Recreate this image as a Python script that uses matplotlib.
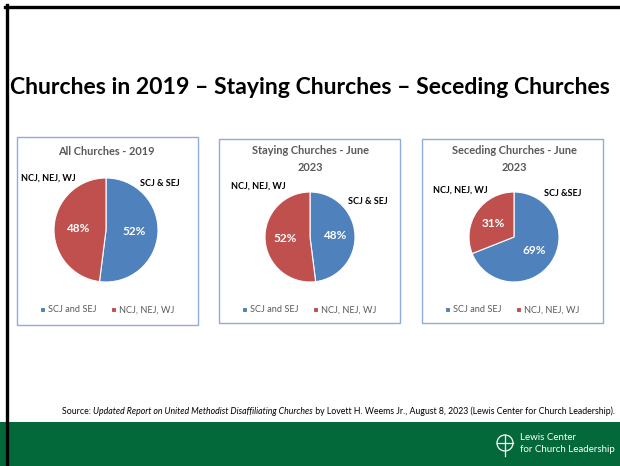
import matplotlib
matplotlib.use('Agg')
import matplotlib.pyplot as plt
from matplotlib.patches import Rectangle, Circle
from matplotlib.lines import Line2D

# data
regions = ['SCJ and SEJ', 'NCJ, NEJ, WJ']
all_2019 = [52, 48]
staying_2023 = [48, 52]
seceding_2023 = [69, 31]
chart_titles = ['All Churches - 2019', 'Staying Churches - June\n2023', 'Seceding Churches - June\n2023']
south_labels = ['SCJ & SEJ', 'SCJ & SEJ', 'SCJ &SEJ']
north_label = 'NCJ, NEJ, WJ'

W, H = 620, 466
BLUE = '#4F81BD'
RED = '#C0504D'
GRAY = '#595959'
GREEN = '#04693A'
FONT = 'Lato'

plt.rcParams['font.family'] = [FONT, 'DejaVu Sans']

def fx(x):
    return x / W

def fy(y):
    return 1 - y / H

fig = plt.figure(figsize=(W / 100, H / 100), dpi=100)
fig.patch.set_facecolor('white')

# green footer band
fig.patches.append(Rectangle((0, 0), 1, (466 - 422) / H, transform=fig.transFigure,
                             facecolor=GREEN, edgecolor='none', zorder=0))
# black slide border (top and left)
fig.lines.append(Line2D([fx(5), 1], [fy(6.5), fy(6.5)], transform=fig.transFigure, color='black', lw=2.4))
fig.lines.append(Line2D([fx(6.5), fx(6.5)], [fy(5), 0], transform=fig.transFigure, color='black', lw=2.4))

fig.text(fx(310), fy(87), 'Churches in 2019 \u2013 Staying Churches \u2013 Seceding Churches',
         ha='center', va='center', fontsize=16.6, fontweight='bold', color='black')

panels = [
    # box (x0, y0, x1, y1), pie centre, radius, label positions
    dict(box=(17, 137, 198, 325), c=(106, 230), r=52, vals=all_2019, title_y=152,
         north=(48, 178), south=(160, 183), legend_y=310),
    dict(box=(219, 139, 400, 323), c=(310, 237), r=45, vals=staying_2023, title_y=159,
         north=(258, 186), south=(368, 201), legend_y=310),
    dict(box=(422, 139, 603, 323), c=(514, 237), r=45, vals=seceding_2023, title_y=159,
         north=(460, 190), south=(563, 193), legend_y=310),
]

for i, p in enumerate(panels):
    x0, y0, x1, y1 = p['box']
    fig.patches.append(Rectangle((fx(x0), fy(y1)), (x1 - x0) / W, (y1 - y0) / H,
                                 transform=fig.transFigure, facecolor='white',
                                 edgecolor='#8FAADC', lw=1.0, zorder=1))
    cx, cy = p['c']
    r = p['r']
    ax = fig.add_axes([fx(cx - r), fy(cy + r), 2 * r / W, 2 * r / H])
    ax.set_zorder(3)
    wedges, _, autotexts = ax.pie(p['vals'], colors=[BLUE, RED], startangle=90, counterclock=False,
                                  autopct=lambda v: f'{v:.0f}%', pctdistance=0.55,
                                  wedgeprops=dict(edgecolor='white', linewidth=0.8))
    for t in autotexts:
        t.set_color('white')
        t.set_fontsize(8.5)
        t.set_fontweight('bold')
    ax.set_xlim(-1, 1)
    ax.set_ylim(-1, 1)
    ax.set_aspect('equal')

    fig.text(fx(cx), fy(p['title_y']), chart_titles[i], ha='center', va='center',
             fontsize=7.9, fontweight='bold', color=GRAY, linespacing=1.6, zorder=4)
    fig.text(fx(p['north'][0]), fy(p['north'][1]), north_label, ha='center', va='center',
             fontsize=6.5, fontweight='bold', color='black', zorder=4)
    fig.text(fx(p['south'][0]), fy(p['south'][1]), south_labels[i], ha='center', va='center',
             fontsize=6.5, fontweight='bold', color='black', zorder=4)
    leg = fig.legend(wedges, regions, loc='center', bbox_to_anchor=(fx((x0 + x1) / 2), fy(p['legend_y'])),
                     ncol=2, frameon=False, fontsize=6.6, labelcolor=GRAY, handlelength=0.45,
                     handleheight=0.45, handletextpad=0.4, columnspacing=1.6)
    leg.set_zorder(4)

# source line, pieced together so the title can be italic
fig.canvas.draw()
renderer = fig.canvas.get_renderer()
x = 62
for txt, st in [('Source: ', 'normal'),
                ('Updated Report on United Methodist Disaffiliating Churches', 'italic'),
                (' by Lovett H. Weems Jr., August 8, 2023 (Lewis Center for Church Leadership).', 'normal')]:
    t = fig.text(fx(x), fy(411), txt, ha='left', va='center', fontsize=6.3, style=st, color='black')
    x = t.get_window_extent(renderer).x1

# logo in the footer
logo = fig.add_axes([fx(493), fy(458), 24 / W, 24 / H])
logo.set_zorder(3)
logo.patch.set_visible(False)
logo.set_xlim(0, 24)
logo.set_ylim(0, 24)
logo.axis('off')
logo.add_patch(Circle((12, 15), 8, facecolor='none', edgecolor='white', lw=0.9))
logo.plot([12, 12], [2, 23], color='white', lw=0.9)
logo.plot([4, 20], [15, 15], color='white', lw=0.9)
fig.text(fx(520), fy(437), 'Lewis Center', ha='left', va='center', fontsize=7, color='white')
fig.text(fx(520), fy(450), 'for Church Leadership', ha='left', va='center', fontsize=7, color='white')

fig.savefig('out.png', dpi=100)
